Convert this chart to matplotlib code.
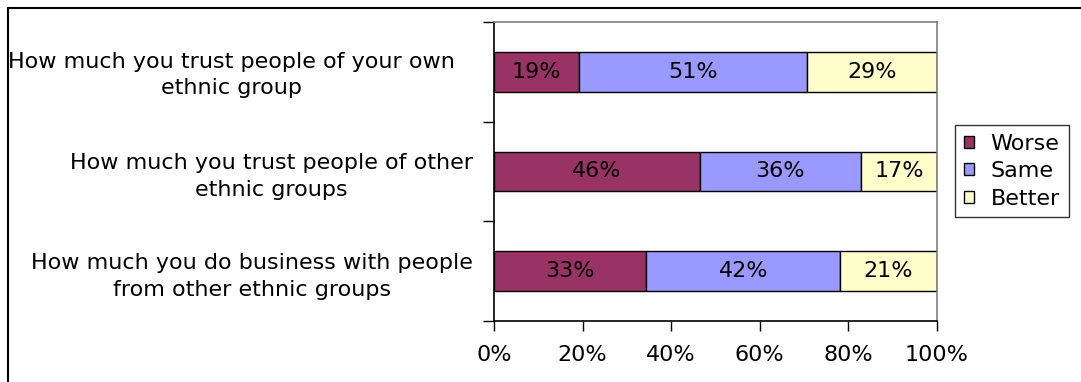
import matplotlib
matplotlib.use("Agg")
import matplotlib.pyplot as plt
from matplotlib.lines import Line2D
from matplotlib.transforms import ScaledTranslation
import numpy as np

plt.rcParams['font.family'] = ['DejaVu Sans']

categories = [
    "How much you trust people of your own\nethnic group",
    "How much you trust people of other\nethnic groups",
    "How much you do business with people\nfrom other ethnic groups",
]
series_names = ["Worse", "Same", "Better"]
worse = [19, 46, 33]
same = [51, 36, 42]
better = [29, 17, 21]
colors = ["#993366", "#9999FF", "#FFFFCC"]
xtick_labels = ["0%", "20%", "40%", "60%", "80%", "100%"]

W, H = 1081, 382
FS = 16
fig = plt.figure(figsize=(W / 100, H / 100), dpi=100)
ax = fig.add_axes([494 / W, 1 - 321 / H, (937 - 494) / W, (321 - 22) / H])

data = np.array([worse, same, better], dtype=float)
totals = data.sum(axis=0)
shares = data / totals
y = np.arange(len(categories))
left = np.zeros(len(categories))
for name, raw, share, col in zip(series_names, data, shares, colors):
    ax.barh(y, share, left=left, height=0.4, color=col,
            edgecolor="black", linewidth=1.0, label=name)
    for yi, l, s, r in zip(y, left, share, raw):
        ax.text(l + s / 2, yi, f"{int(r)}%", ha="center", va="center",
                fontsize=FS, color="black")
    left = left + share

ax.set_xlim(0, 1)
ax.set_ylim(len(categories) - 0.5, -0.5)
ax.set_xticks(np.linspace(0, 1, 6))
ax.set_xticklabels(xtick_labels, fontsize=FS)
ax.tick_params(axis="x", direction="out", length=7, width=1, pad=10, color="black")

ax.set_yticks(y)
ax.set_yticklabels(categories, fontsize=FS, multialignment="center", linespacing=1.4)
ax.tick_params(axis="y", which="major", length=0, pad=15)
ax.set_yticks(np.arange(-0.5, len(categories), 1.0), minor=True)
ax.tick_params(axis="y", which="minor", direction="out", length=8, width=1, color="black")
# first label sits a bit further left in the reference
lab0 = ax.get_yticklabels()[0]
lab0.set_transform(lab0.get_transform() + ScaledTranslation(-0.18, 0.02, fig.dpi_scale_trans))

for side in ["top", "right"]:
    ax.spines[side].set_color("#808080")
    ax.spines[side].set_linewidth(1.2)
for side in ["left", "bottom"]:
    ax.spines[side].set_color("black")
    ax.spines[side].set_linewidth(1.2)

leg = ax.legend(loc="upper left", bbox_to_anchor=(955 / W, 1 - 125 / H),
                bbox_transform=fig.transFigure, fontsize=FS, frameon=True,
                fancybox=False, edgecolor="black", handlelength=0.45,
                handleheight=0.45, handletextpad=0.75, labelspacing=0.33,
                borderpad=0.4, borderaxespad=0)
leg.get_frame().set_linewidth(1.0)
for h in leg.legend_handles:
    h.set_linewidth(1.0)
    h.set_edgecolor("black")

# outer chart frame
fig.add_artist(Line2D([8 / W, 8 / W], [0, 1 - 8 / H], transform=fig.transFigure,
                      color="black", linewidth=1.5))
fig.add_artist(Line2D([8 / W, 1], [1 - 8 / H, 1 - 8 / H], transform=fig.transFigure,
                      color="black", linewidth=1.5))

fig.savefig("out.png", dpi=100)
